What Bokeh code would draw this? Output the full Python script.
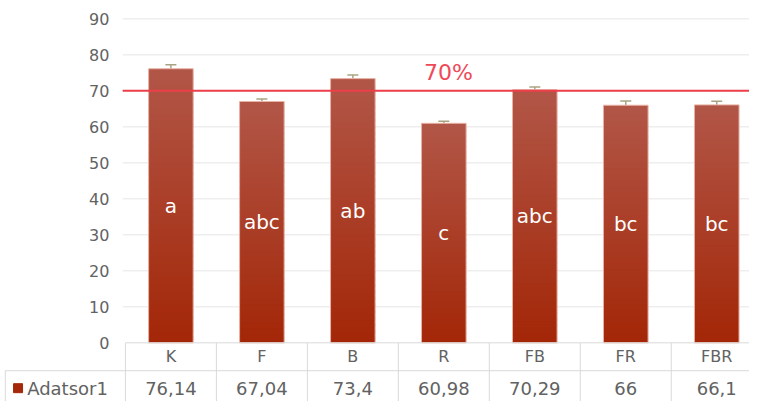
from bokeh.plotting import figure
from bokeh.models import (Range1d, LinearAxis, FixedTicker, ColumnDataSource,
                          Whisker, TeeHead)
from bokeh.core.properties import value
from bokeh.embed import file_html
from bokeh.resources import INLINE

# ---- data ----
categories = ["K", "F", "B", "R", "FB", "FR", "FBR"]
values = [76.14, 67.04, 73.4, 60.98, 70.29, 66.0, 66.1]
errors = [1.1, 0.7, 1.0, 0.6, 0.8, 1.2, 1.0]
letters = ["a", "abc", "ab", "c", "abc", "bc", "bc"]
series_name = "Adatsor1"
threshold = 70
threshold_label = "70%"
y_ticks = [0, 10, 20, 30, 40, 50, 60, 70, 80, 90]

FONT = "DejaVu Sans"
GRAY = "#626262"

n = len(categories)
xc = [i + 0.5 for i in range(n)]
x_left, x_right = -1.373, 6.86
y_bot, y_top = -16.3, 95.1
row_split = -7.75
cell_left = -1.32

p = figure(width=749, height=401, output_backend="svg", toolbar_location=None,
           x_range=Range1d(x_left, x_right), y_range=Range1d(y_bot, y_top),
           x_axis_location=None, y_axis_location=None,
           min_border=0, outline_line_color=None)
p.xgrid.visible = False
p.ygrid.visible = False

# y axis drawn at x = 0
yax = LinearAxis(fixed_location=0, ticker=FixedTicker(ticks=y_ticks))
yax.axis_line_color = None
yax.major_tick_line_color = None
yax.minor_tick_line_color = None
yax.major_tick_out = 0
yax.major_label_standoff = 16
yax.major_label_text_font = FONT
yax.major_label_text_font_size = "16px"
yax.major_label_text_color = GRAY
p.add_layout(yax, "left")

# gridlines
grid_y = [t for t in y_ticks if t > 0]
p.segment(x0=[-0.03] * len(grid_y), x1=[x_right] * len(grid_y), y0=grid_y, y1=grid_y,
          line_color="#e6e6e6", line_width=1)

# gradient bars (stacked overlapping slices)
N = 40
top_c = (178, 86, 72)
bot_c = (163, 38, 6)
sx, sb, st, sc = [], [], [], []
for i, v in enumerate(values):
    for k in range(N):
        f = (k + 0.5) / N
        r = int(bot_c[0] + (top_c[0] - bot_c[0]) * f)
        g = int(bot_c[1] + (top_c[1] - bot_c[1]) * f)
        b = int(bot_c[2] + (top_c[2] - bot_c[2]) * f)
        sx.append(xc[i])
        sb.append(max(0.0, v * (k - 0.6) / N))
        st.append(v * (k + 1) / N)
        sc.append("#%02x%02x%02x" % (r, g, b))
p.vbar(x=sx, bottom=sb, top=st, width=0.49, fill_color=sc, line_color=None)
p.vbar(x=xc, bottom=0, top=values, width=0.49, fill_alpha=0,
       line_color="#e9b2a6", line_width=1)

# error bars (plus only)
src = ColumnDataSource(dict(x=xc, lower=values,
                            upper=[v + e for v, e in zip(values, errors)]))
w = Whisker(base="x", lower="lower", upper="upper", source=src,
            line_color="#aaa383", line_width=1.5,
            upper_head=TeeHead(size=11, line_color="#aaa383", line_width=1.5),
            lower_head=None)
p.add_layout(w)

# threshold line + label
p.segment(x0=[-0.03], x1=[x_right], y0=[threshold], y1=[threshold],
          line_color="#ec3f4a", line_width=2)
p.text(x=[3.55], y=[threshold + 5], text=[threshold_label],
       text_font=value(FONT), text_font_size="22px", text_color="#ee4a58",
       text_align="center", text_baseline="middle")

# letters inside bars
p.text(x=xc, y=[v / 2 for v in values], text=letters, text_font=value(FONT),
       text_font_size="20px", text_color="white", text_align="center",
       text_baseline="middle")

# data table
line_c = "#d9d9d9"
p.segment(x0=[0], x1=[x_right], y0=[0], y1=[0], line_color=line_c, line_width=1)
p.segment(x0=[cell_left], x1=[x_right], y0=[row_split], y1=[row_split],
          line_color=line_c, line_width=1)
vx = list(range(n))
p.segment(x0=vx, x1=vx, y0=[0] * n, y1=[y_bot] * n, line_color=line_c, line_width=1)
p.segment(x0=[cell_left], x1=[cell_left], y0=[row_split], y1=[y_bot],
          line_color=line_c, line_width=1)

p.text(x=xc, y=[row_split / 2] * n, text=categories, text_font=value(FONT),
       text_font_size="16px", text_color=GRAY, text_align="center",
       text_baseline="middle")
value_labels = [f"{v:g}".replace(".", ",") for v in values]
row2_mid = -12.6
p.text(x=xc, y=[row2_mid] * n, text=value_labels, text_font=value(FONT),
       text_font_size="18px", text_color=GRAY, text_align="center",
       text_baseline="middle")
p.scatter(x=[-1.18], y=[row2_mid], marker="square", size=9,
          fill_color="#a3290a", line_color="#a3290a")
p.text(x=[-1.08], y=[row2_mid], text=[series_name], text_font=value(FONT),
       text_font_size="18px", text_color=GRAY, text_align="left",
       text_baseline="middle")

open("out.html", "w").write(file_html(p, INLINE))
